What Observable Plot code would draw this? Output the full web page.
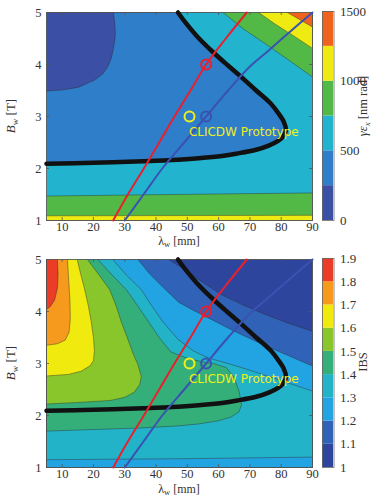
<!DOCTYPE html>
<html><head><meta charset="utf-8">
<script src="https://cdn.jsdelivr.net/npm/d3@7"></script>
<script src="https://cdn.jsdelivr.net/npm/@observablehq/plot@0.6"></script>
<style>
body{margin:0;background:#fff;}
#c{position:relative;width:371px;height:496px;overflow:hidden;background:#fff;}
#c svg{position:absolute;}
</style></head><body><div id="c"></div>
<script>
// ---------- axes ----------
const lambdaDomain = [5, 90];
const bDomain = [1, 5];
const lambdaTicks = [10, 20, 30, 40, 50, 60, 70, 80, 90];
const bTicks = [1, 2, 3, 4, 5];

// ---------- emittance colour bar ----------
const emitThresholds = [0, 250, 500, 750, 1000, 1250, 1500];
const emitColors = ["#3b4fa5", "#2f7ec9", "#22b3cf", "#52b947", "#eeea12", "#f0631e"];
const emitTicks = [0, 500, 1000, 1500];

// ---------- IBS colour bar ----------
const ibsThresholds = [1, 1.1, 1.2, 1.3, 1.4, 1.5, 1.6, 1.7, 1.8, 1.9];
const ibsColors = ["#2e459d", "#3062b7", "#22a3e2", "#22b3c8", "#35af7a", "#88c62b", "#f1ea0e", "#f59a1d", "#ea3c26"];
const ibsTicks = [1, 1.1, 1.2, 1.3, 1.4, 1.5, 1.6, 1.7, 1.8, 1.9];

// ---------- overlay curves [λw mm, Bw T] ----------
const targetCurve = [[5,2.09],[20,2.11],[36,2.14],[47,2.17],[58,2.22],[66,2.29],[72,2.36],[76,2.44],[79,2.53],[80.8,2.63],[81.5,2.75],[80.8,2.9],[79,3.07],[76.5,3.26],[72,3.5],[68,3.72],[63,3.98],[58,4.25],[53,4.55],[49.5,4.8],[47,5]];
const redCurve = [[26.3,1],[31,1.5],[36.1,2],[41,2.5],[45.9,3],[51,3.5],[56,4],[62.3,4.5],[69,5]];
const blueCurve = [[30,1],[36,1.5],[42,2],[49,2.5],[56,3],[63,3.5],[70,3.96],[76,4.27],[83,4.64],[90,5]];
const redPoint = [[56, 4]];
const bluePoint = [[56, 3]];
const prototypePoint = [[50.7, 3]];
const prototypeLabel = [{text: "CLICDW Prototype", lambda: 50.5, B: 2.69}];

// ---------- emittance contours ----------
const emit250 = [[5,3.49],[10,3.51],[15.1,3.56],[20.4,3.7],[23,3.82],[24.6,3.96],[25.7,4.12],[26.2,4.25],[26.8,4.45],[27,4.6],[26.8,4.8],[26.4,5]];
const emit500 = targetCurve;
const emit750Low = [[5,1.47],[45,1.5],[90,1.53]];
const emit1000Low = [[5,1.09],[90,1.1]];
const emit750High = [[61.4,5],[68,4.68],[75.4,4.38],[83,4.06],[90,3.76]];
const emit1000High = [[72.8,5],[78,4.78],[84,4.55],[90,4.31]];
const emit1250High = [[82,5],[86,4.86],[90,4.72]];

// ---------- IBS contours ----------
const ibs11 = [[44,5],[48,4.85],[53,4.64],[57,4.48],[61,4.32],[68,4.12],[75,3.94],[82,3.78],[90,3.62]];
const ibs12 = [[34.2,5],[38,4.72],[42.5,4.45],[47.2,4.18],[52,4.02],[56,3.9],[65,3.62],[75,3.34],[82,3.16],[90,2.95]];
const ibs13Upper = [[26.2,5],[30.5,4.7],[35.3,4.42],[38.5,4.12],[42.2,3.8],[47.1,3.46],[52,3.24],[57,3.1],[63,3.0],[70,2.87],[80,2.67],[90,2.47]];
const ibs13Lower = [[90,1.2],[50,1.17],[5,1.15]];
const ibs14 = [[21.4,5],[26,4.7],[30.5,4.42],[34,4.12],[37.4,3.82],[41,3.5],[44.8,3.22],[50,3.1],[55,3.03],[59,2.99],[62.5,2.92],[65,2.72],[66.6,2.45],[67.3,2.2],[66.5,2.07],[64,1.97],[60,1.9],[54,1.84],[47,1.8],[35,1.76],[20,1.73],[5,1.7]];
const ibs15 = [[18.1,5],[21.8,4.7],[25.2,4.42],[27.3,4.1],[28.9,3.8],[30.8,3.5],[32.6,3.2],[34.2,2.98],[35.3,2.75],[34.8,2.6],[33.1,2.45],[30,2.35],[25.5,2.29],[15,2.25],[5,2.22]];
const ibs16 = [[14.8,5],[16,4.7],[17.2,4.42],[18.4,4.1],[19.3,3.8],[20,3.5],[20.3,3.25],[20,3.05],[18.8,2.95],[16,2.85],[12,2.79],[5,2.76]];
const ibs17 = [[11.7,5],[12.1,4.6],[12.5,4.2],[12.6,3.85],[12.2,3.6],[11,3.45],[8.5,3.38],[5,3.35]];
const ibs18 = [[8.5,5],[8.7,4.7],[8.5,4.45],[7.6,4.22],[6.3,4.1],[5,4.04]];

// ---------- helpers ----------
const corners = {
  BL: [lambdaDomain[0], bDomain[0]], BR: [lambdaDomain[1], bDomain[0]],
  TR: [lambdaDomain[1], bDomain[1]], TL: [lambdaDomain[0], bDomain[1]]
};
const region = (contour, cs, fill) => ({pts: [...contour, ...cs.map(c => corners[c])], fill});

const emitRegions = [
  region([], ["BL","BR","TR","TL"], emitColors[2]),
  region(emit750Low, ["BR","BL"], emitColors[3]),
  region(emit1000Low, ["BR","BL"], emitColors[4]),
  region(emit750High, ["TR"], emitColors[3]),
  region(emit1000High, ["TR"], emitColors[4]),
  region(emit1250High, ["TR"], emitColors[5]),
  region(emit500, ["TL"], emitColors[1]),
  region(emit250, ["TL"], emitColors[0])
];
const ibsRegions = [
  region([], ["BL","BR","TR","TL"], ibsColors[0]),
  region(ibs11, ["BR","BL","TL"], ibsColors[1]),
  region(ibs12, ["BR","BL","TL"], ibsColors[2]),
  region([...ibs13Upper, ...ibs13Lower], ["TL"], ibsColors[3]),
  region(ibs14, ["TL"], ibsColors[4]),
  region(ibs15, ["TL"], ibsColors[5]),
  region(ibs16, ["TL"], ibsColors[6]),
  region(ibs17, ["TL"], ibsColors[7]),
  region(ibs18, ["TL"], ibsColors[8])
];

const W = 371, H = 248, ML = 46, MR = 59;
const serif = "'Liberation Serif', 'Times New Roman', serif";
const X = d => d[0], Y = d => d[1];

function mainPlot(regions, mt, mb) {
  const plotH = H - mt - mb, plotW = W - ML - MR;
  const p = Plot.plot({
    width: W, height: H, marginLeft: ML, marginRight: MR, marginTop: mt, marginBottom: mb,
    x: {domain: lambdaDomain, ticks: lambdaTicks, tickSize: 0, tickPadding: 2, label: null, tickFormat: d => String(d)},
    y: {domain: bDomain, ticks: bTicks, tickSize: 0, tickPadding: 5, label: null, tickFormat: d => String(d)},
    style: {fontFamily: serif, fontSize: "12.5px", color: "#333", background: "transparent", overflow: "visible"},
    marks: [
      ...regions.map(r => Plot.line(r.pts, {x: X, y: Y, fill: r.fill, stroke: "#2a2a2a", strokeWidth: 0.5, strokeOpacity: 0.85})),
      Plot.frame({stroke: "#555", strokeWidth: 0.8}),
      Plot.tickX(lambdaTicks, {x: d => d, insetTop: plotH - 3, stroke: "#555", strokeWidth: 0.8}),
      Plot.tickX(lambdaTicks, {x: d => d, insetBottom: plotH - 3, stroke: "#555", strokeWidth: 0.8}),
      Plot.tickY(bTicks, {y: d => d, insetRight: plotW - 3, stroke: "#555", strokeWidth: 0.8}),
      Plot.tickY(bTicks, {y: d => d, insetLeft: plotW - 3, stroke: "#555", strokeWidth: 0.8}),
      Plot.line(targetCurve, {x: X, y: Y, stroke: "#111", strokeWidth: 4.5, curve: "catmull-rom"}),
      Plot.line(redCurve, {x: X, y: Y, stroke: "#e8202e", strokeWidth: 2, curve: "catmull-rom"}),
      Plot.line(blueCurve, {x: X, y: Y, stroke: "#3a52b2", strokeWidth: 2, curve: "catmull-rom"}),
      Plot.dot(prototypePoint, {x: X, y: Y, r: 5, stroke: "#f3ee1a", strokeWidth: 2, fill: "none"}),
      Plot.dot(bluePoint, {x: X, y: Y, r: 5, stroke: "#3a52b2", strokeWidth: 2, fill: "none"}),
      Plot.dot(redPoint, {x: X, y: Y, r: 5, stroke: "#e8202e", strokeWidth: 2, fill: "none"}),
      Plot.text(prototypeLabel, {x: "lambda", y: "B", text: "text", textAnchor: "start", fill: "#f3ee1a", fontFamily: "'DejaVu Sans', sans-serif", fontSize: 12})
    ]
  });
  const svg = d3.select(p);
  const cx = ML + plotW / 2;
  const xl = svg.append("text").attr("x", cx).attr("y", H - 3.5).attr("text-anchor", "middle")
    .attr("font-family", serif).attr("font-size", 12).attr("fill", "#333");
  xl.append("tspan").text("λ");
  xl.append("tspan").attr("font-size", 8.5).attr("dy", 2).text("w");
  xl.append("tspan").attr("dy", -2).text(" [mm]");
  const yl = svg.append("text").attr("transform", `translate(15,${mt + plotH / 2}) rotate(-90)`).attr("text-anchor", "middle")
    .attr("font-family", serif).attr("font-size", 13).attr("fill", "#333");
  yl.append("tspan").attr("font-style", "italic").text("B");
  yl.append("tspan").attr("font-size", 9).attr("dy", 3).text("w");
  yl.append("tspan").attr("dy", -3).text(" [T]");
  return p;
}

function colorbar(thresholds, colors, ticks, mt, mb, labelY, labelFn) {
  const bands = colors.map((c, i) => ({lo: thresholds[i], hi: thresholds[i + 1], c}));
  const p = Plot.plot({
    width: 50, height: H, marginLeft: 1, marginRight: 37.5, marginTop: mt, marginBottom: mb,
    x: {type: "band", domain: ["bar"], padding: 0, axis: null},
    y: {domain: [thresholds[0], thresholds[thresholds.length - 1]], ticks, tickSize: 0, tickPadding: 6, axis: "right", label: null, tickFormat: d => String(d)},
    color: {type: "identity"},
    style: {fontFamily: serif, fontSize: "13px", color: "#333", background: "transparent", overflow: "visible"},
    marks: [
      Plot.barY(bands, {x: () => "bar", y1: "lo", y2: "hi", fill: "c"}),
      Plot.frame({stroke: "#666", strokeWidth: 0.8})
    ]
  });
  const t = d3.select(p).append("text").attr("transform", `translate(46,${labelY}) rotate(-90)`).attr("text-anchor", "middle")
    .attr("font-family", serif).attr("font-size", 12.5).attr("fill", "#333");
  labelFn(t);
  return p;
}

const c = document.getElementById("c");
const m1 = mainPlot(emitRegions, 12, 28); m1.style.left = "0px"; m1.style.top = "0px"; c.appendChild(m1);
const cb1 = colorbar(emitThresholds, emitColors, emitTicks, 11, 28, 106, t => {
  t.append("tspan").attr("font-style", "italic").text("γε");
  t.append("tspan").attr("font-style", "italic").attr("font-size", 9).attr("dy", 3).text("x");
  t.append("tspan").attr("dy", -3).text(" [nm rad]");
});
cb1.style.left = "321px"; cb1.style.top = "0px"; c.appendChild(cb1);
const m2 = mainPlot(ibsRegions, 11, 29); m2.style.left = "0px"; m2.style.top = "248px"; c.appendChild(m2);
const cb2 = colorbar(ibsThresholds, ibsColors, ibsTicks, 10, 29, 114, t => { t.text("IBS"); });
cb2.style.left = "321px"; cb2.style.top = "248px"; c.appendChild(cb2);
</script></body></html>
